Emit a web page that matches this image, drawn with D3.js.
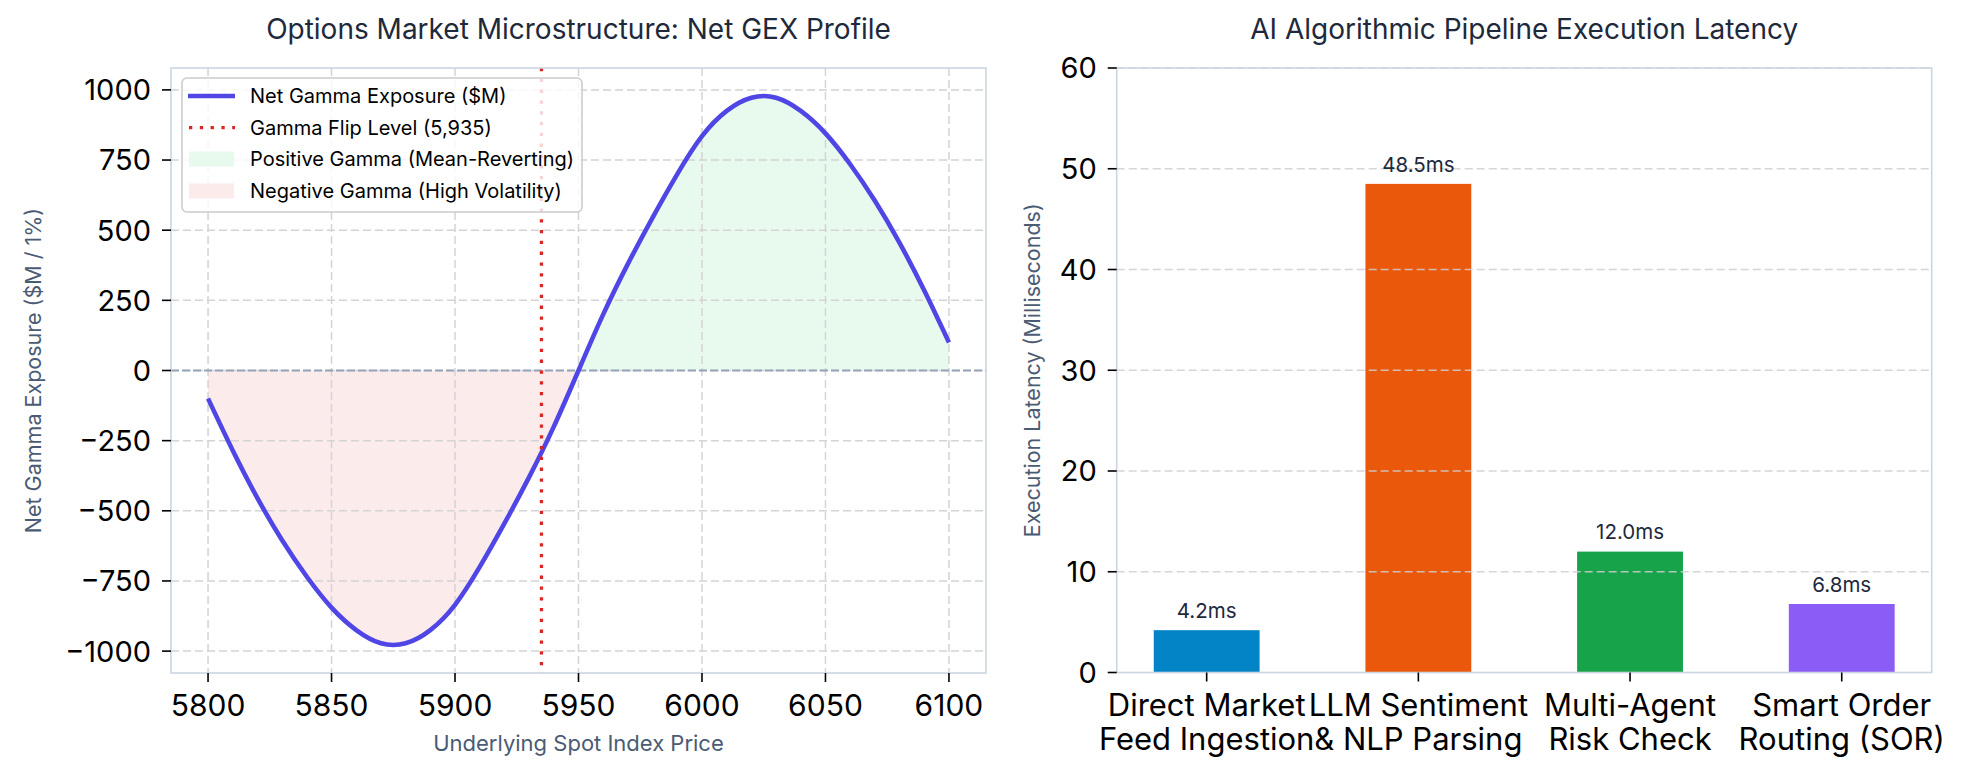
<!DOCTYPE html>
<html><head><meta charset="utf-8">
<script src="https://cdn.jsdelivr.net/npm/d3@7"></script>
<style>
body{margin:0;background:#fff;}
svg{display:block;font-family:Inter,'Open Sans',sans-serif;}
</style>
</head><body>
<svg id="chart" width="1967" height="780"></svg>
<script>
// ---------- DATA ----------
const gexPrice = [5800,5810,5820,5830,5840,5850,5860,5870,5880,5890,5900,5910,5920,5930,5940,5950,
                  5960,5970,5980,5990,6000,6010,6020,6030,6040,6050,6060,6070,6080,6090,6100];
const gexValue = [-100,-285,-455,-605,-735,-845,-925,-972,-972,-925,-835,-700,-545,-380,-200,0,
                  200,380,545,700,835,925,972,972,925,845,735,605,455,285,100];
const flipLevel = 5935;
const gexXTicks = [5800,5850,5900,5950,6000,6050,6100];
const gexYTicks = [-1000,-750,-500,-250,0,250,500,750,1000];
const legendLabels = ["Net Gamma Exposure ($M)","Gamma Flip Level (5,935)","Positive Gamma (Mean-Reverting)","Negative Gamma (High Volatility)"];

const stageLabels = [["Direct Market","Feed Ingestion"],["LLM Sentiment","& NLP Parsing"],["Multi-Agent","Risk Check"],["Smart Order","Routing (SOR)"]];
const latencyMs = [4.2, 48.5, 12.0, 6.8];
const latencyTicks = [0,10,20,30,40,50,60];
const barColors = ["#0284c7","#ea580c","#16a34a","#8b5cf6"];

// ---------- STYLE ----------
const C = {title:"#1e293b", axisLabel:"#4b5b74", spine:"#cbd5e1", grid:"#d4d4d4", tick:"#000",
           line:"#4f46e5", flip:"#dc2626", pos:"#e8faee", neg:"#fcebeb", zero:"#94a3b8"};
const svg = d3.select("#chart");
const YTICK_FS = 29, XTICK_FS = 31, TITLE_FS = 28, LABEL_FS = 21.5, LEGEND_FS = 20, VALUE_FS = 20.5;

// ---------- LEFT PANEL ----------
const L = {left:171, right:986, top:68, bottom:673};
const xExt = d3.extent(gexPrice), xPad = (xExt[1]-xExt[0])*0.05;
const yMax = 980, yPad = 2*yMax*0.05;
const x1 = d3.scaleLinear().domain([xExt[0]-xPad, xExt[1]+xPad]).range([L.left, L.right]);
const y1 = d3.scaleLinear().domain([-yMax-yPad, yMax+yPad]).range([L.bottom, L.top]);
const gL = svg.append("g");
const pts = gexPrice.map((p,i)=>({p, v:gexValue[i]}));

const defs = svg.append("defs");
defs.append("clipPath").attr("id","clipPos").append("rect")
  .attr("x",L.left).attr("y",L.top).attr("width",L.right-L.left).attr("height",y1(0)-L.top);
defs.append("clipPath").attr("id","clipNeg").append("rect")
  .attr("x",L.left).attr("y",y1(0)).attr("width",L.right-L.left).attr("height",L.bottom-y1(0));
defs.append("clipPath").attr("id","clipL").append("rect")
  .attr("x",L.left).attr("y",L.top).attr("width",L.right-L.left).attr("height",L.bottom-L.top);

const curve = d3.curveNatural;
const area = d3.area().x(d=>x1(d.p)).y0(y1(0)).y1(d=>y1(d.v)).curve(curve);
gL.append("path").datum(pts).attr("d",area).attr("fill",C.pos).attr("clip-path","url(#clipPos)");
gL.append("path").datum(pts).attr("d",area).attr("fill",C.neg).attr("clip-path","url(#clipNeg)");

// grid
gL.selectAll(".gx").data(gexXTicks).join("line")
  .attr("x1",d=>x1(d)).attr("x2",d=>x1(d)).attr("y1",L.top).attr("y2",L.bottom)
  .attr("stroke",C.grid).attr("stroke-width",1.5).attr("stroke-dasharray","8,4");
gL.selectAll(".gy").data(gexYTicks).join("line")
  .attr("y1",d=>y1(d)).attr("y2",d=>y1(d)).attr("x1",L.left).attr("x2",L.right)
  .attr("stroke",C.grid).attr("stroke-width",1.5).attr("stroke-dasharray","8,4");

// zero line
gL.append("line").attr("x1",L.left).attr("x2",L.right).attr("y1",y1(0)).attr("y2",y1(0))
  .attr("stroke",C.zero).attr("stroke-width",2).attr("stroke-dasharray","8,3");

// curve
const line = d3.line().x(d=>x1(d.p)).y(d=>y1(d.v)).curve(curve);
gL.append("path").datum(pts).attr("d",line).attr("fill","none")
  .attr("stroke",C.line).attr("stroke-width",4.6).attr("clip-path","url(#clipL)");

// flip line
gL.append("line").attr("x1",x1(flipLevel)).attr("x2",x1(flipLevel)).attr("y1",L.top).attr("y2",L.bottom)
  .attr("stroke",C.flip).attr("stroke-width",3.3).attr("stroke-dasharray","3.3,7.5");

// spines
gL.append("rect").attr("x",L.left).attr("y",L.top).attr("width",L.right-L.left).attr("height",L.bottom-L.top)
  .attr("fill","none").attr("stroke",C.spine).attr("stroke-width",1.6);

// ticks
gL.selectAll(".ty").data(gexYTicks).join("line")
  .attr("x1",L.left-9).attr("x2",L.left).attr("y1",d=>y1(d)).attr("y2",d=>y1(d))
  .attr("stroke",C.tick).attr("stroke-width",1.6);
gL.selectAll(".tyl").data(gexYTicks).join("text")
  .attr("x",L.left-20).attr("y",d=>y1(d)).attr("dy","0.36em").attr("text-anchor","end")
  .attr("font-size",YTICK_FS).attr("fill","#000").text(d=>d3.format("d")(d));
gL.selectAll(".tx").data(gexXTicks).join("line")
  .attr("x1",d=>x1(d)).attr("x2",d=>x1(d)).attr("y1",L.bottom).attr("y2",L.bottom+9)
  .attr("stroke",C.tick).attr("stroke-width",1.6);
gL.selectAll(".txl").data(gexXTicks).join("text")
  .attr("x",d=>x1(d)).attr("y",705).attr("dy","0.36em").attr("text-anchor","middle")
  .attr("font-size",XTICK_FS-1).attr("fill","#000").text(d=>d);

// labels & title
gL.append("text").attr("x",(L.left+L.right)/2).attr("y",29).attr("dy","0.36em").attr("text-anchor","middle")
  .attr("font-size",TITLE_FS).attr("fill",C.title).text("Options Market Microstructure: Net GEX Profile");
gL.append("text").attr("x",(L.left+L.right)/2).attr("y",743).attr("dy","0.36em").attr("text-anchor","middle")
  .attr("font-size",22).attr("fill",C.axisLabel).text("Underlying Spot Index Price");
gL.append("text").attr("transform",`translate(33,${(L.top+L.bottom)/2}) rotate(-90)`).attr("dy","0.36em")
  .attr("text-anchor","middle").attr("font-size",LABEL_FS).attr("fill",C.axisLabel).text("Net Gamma Exposure ($M / 1%)");

// legend
const lg = gL.append("g").attr("transform","translate(182,78)");
lg.append("rect").attr("width",400).attr("height",134).attr("rx",5)
  .attr("fill","#fff").attr("fill-opacity",0.8).attr("stroke","#cccccc").attr("stroke-width",1.6);
const rowY = [18, 49.7, 81, 113];
lg.append("line").attr("x1",6).attr("x2",53).attr("y1",rowY[0]).attr("y2",rowY[0])
  .attr("stroke",C.line).attr("stroke-width",4.6);
lg.append("line").attr("x1",7).attr("x2",53).attr("y1",rowY[1]).attr("y2",rowY[1])
  .attr("stroke",C.flip).attr("stroke-width",3.3).attr("stroke-dasharray","3.3,7.5");
lg.append("rect").attr("x",7).attr("y",rowY[2]-7.5).attr("width",45).attr("height",15).attr("fill",C.pos);
lg.append("rect").attr("x",7).attr("y",rowY[3]-7.5).attr("width",45).attr("height",15).attr("fill",C.neg);
lg.selectAll(".lt").data(legendLabels).join("text")
  .attr("x",68).attr("y",(d,i)=>rowY[i]).attr("dy","0.36em").attr("font-size",LEGEND_FS).attr("fill","#000").text(d=>d);

// ---------- RIGHT PANEL ----------
const R = {left:1116.7, right:1931.7, top:68, bottom:672.5};
const bw = 0.5, n = latencyMs.length;
const bLo = -bw/2, bHi = n-1+bw/2, bPad = (bHi-bLo)*0.05;
const xb = d3.scaleLinear().domain([bLo-bPad, bHi+bPad]).range([R.left, R.right]);
const yb = d3.scaleLinear().domain([0, d3.max(latencyTicks)]).range([R.bottom, R.top]);
const gR = svg.append("g");

gR.selectAll(".bar").data(latencyMs).join("rect")
  .attr("x",(d,i)=>xb(i-bw/2)).attr("width",(d,i)=>xb(i+bw/2)-xb(i-bw/2))
  .attr("y",d=>yb(d)).attr("height",d=>yb(0)-yb(d)).attr("fill",(d,i)=>barColors[i]);

gR.selectAll(".gy").data(latencyTicks.slice(1)).join("line")
  .attr("y1",d=>yb(d)).attr("y2",d=>yb(d)).attr("x1",R.left).attr("x2",R.right)
  .attr("stroke","#cfcfcf").attr("stroke-opacity",0.85).attr("stroke-width",1.5).attr("stroke-dasharray","8,4");

gR.selectAll(".vl").data(latencyMs).join("text")
  .attr("x",(d,i)=>xb(i)).attr("y",d=>yb(d)-19.5).attr("dy","0.36em").attr("text-anchor","middle")
  .attr("font-size",VALUE_FS).attr("fill",C.title).text(d=>d3.format(".1f")(d)+"ms");

gR.append("rect").attr("x",R.left).attr("y",R.top).attr("width",R.right-R.left).attr("height",R.bottom-R.top)
  .attr("fill","none").attr("stroke",C.spine).attr("stroke-width",1.6);

gR.selectAll(".ty").data(latencyTicks).join("line")
  .attr("x1",R.left-9).attr("x2",R.left).attr("y1",d=>yb(d)).attr("y2",d=>yb(d))
  .attr("stroke",C.tick).attr("stroke-width",1.6);
gR.selectAll(".tyl").data(latencyTicks).join("text")
  .attr("x",R.left-20).attr("y",d=>yb(d)).attr("dy","0.36em").attr("text-anchor","end")
  .attr("font-size",YTICK_FS).attr("fill","#000").text(d=>d);
gR.selectAll(".tx").data(latencyMs).join("line")
  .attr("x1",(d,i)=>xb(i)).attr("x2",(d,i)=>xb(i)).attr("y1",R.bottom).attr("y2",R.bottom+9)
  .attr("stroke",C.tick).attr("stroke-width",1.6);
const xl = gR.selectAll(".txl").data(stageLabels).join("text")
  .attr("text-anchor","middle").attr("font-size",XTICK_FS).attr("fill","#000");
xl.each(function(lines,i){
  const t = d3.select(this);
  lines.forEach((s,j)=>t.append("tspan").attr("x",xb(i)).attr("y",705+j*34).attr("dy","0.36em").text(s));
});

gR.append("text").attr("x",(R.left+R.right)/2).attr("y",29).attr("dy","0.36em").attr("text-anchor","middle")
  .attr("font-size",TITLE_FS).attr("fill",C.title).text("AI Algorithmic Pipeline Execution Latency");
gR.append("text").attr("transform",`translate(1032,${(R.top+R.bottom)/2}) rotate(-90)`).attr("dy","0.36em")
  .attr("text-anchor","middle").attr("font-size",LABEL_FS).attr("fill",C.axisLabel).text("Execution Latency (Milliseconds)");
</script>
</body></html>
